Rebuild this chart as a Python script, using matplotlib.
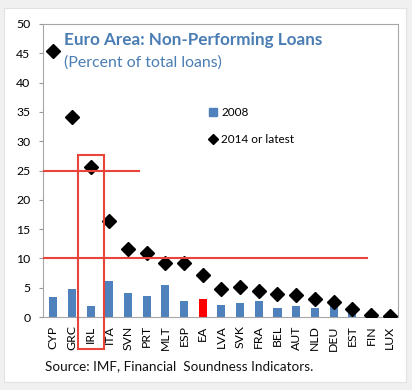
import matplotlib
matplotlib.use("Agg")
import matplotlib.pyplot as plt
from matplotlib.patches import Rectangle
from matplotlib.lines import Line2D
import numpy as np

countries = ["CYP", "GRC", "IRL", "ITA", "SVN", "PRT", "MLT", "ESP", "EA", "LVA",
             "SVK", "FRA", "BEL", "AUT", "NLD", "DEU", "EST", "FIN", "LUX"]
npl_2008 = [3.4, 4.7, 1.9, 6.2, 4.1, 3.6, 5.5, 2.7, 3.1, 2.1,
            2.4, 2.7, 1.6, 1.8, 1.6, 2.3, 1.0, 0.0, 0.0]
npl_2014 = [45.4, 34.1, 25.6, 16.4, 11.6, 11.0, 9.2, 9.2, 7.2, 4.8,
            5.2, 4.4, 3.9, 3.8, 3.1, 2.5, 1.4, 0.3, 0.1]
yticks = list(range(0, 51, 5))

W, H = 412, 390
fig = plt.figure(figsize=(W / 100, H / 100), dpi=100)
fig.patch.set_facecolor("#f0f0f0")
bg = Rectangle((4 / W, 1 - 382 / H), 402 / W, 374 / H, transform=fig.transFigure,
               facecolor="white", edgecolor="#e2e2e2", lw=0.8, zorder=-10)
fig.patches.append(bg)

ax = fig.add_axes([43 / W, 1 - 317 / H, 355 / W, 293 / H])
ax.set_zorder(5)
ax.set_facecolor("white")
x = np.arange(len(countries))
colors = ["#ff0000" if c == "EA" else "#4f81bd" for c in countries]
ax.bar(x, npl_2008, width=0.43, color=colors, zorder=2)
ax.plot(x, npl_2014, linestyle="none", marker="D", ms=7, color="black", zorder=3)

ax.set_xlim(-0.55, 18.45)
ax.set_ylim(0, 50)
ax.set_yticks(yticks)
ax.set_xticks(x)
ax.set_xticklabels(countries, rotation=90, fontsize=8.8, family="Lato")
ax.tick_params(axis="x", length=0, pad=6)
ax.tick_params(axis="y", length=3, color="#999999", labelsize=8.8, pad=6)
for t in ax.get_yticklabels():
    t.set_family("Lato")
for s in ax.spines.values():
    s.set_color("#a6a6a6")
    s.set_linewidth(0.8)

red = "#e8443a"
ax.plot([-0.55, 4.6], [25, 25], color=red, lw=1.5, zorder=4)
ax.plot([-0.55, 16.8], [10, 10], color=red, lw=1.5, zorder=4)
idx = countries.index("IRL")
ax.add_patch(Rectangle((idx - 0.7, -5.5), 1.4, 33.2, fill=False, edgecolor=red,
                       lw=1.5, clip_on=False, zorder=5))

ax.text(0.06, 0.945, "Euro Area: Non-Performing Loans", transform=ax.transAxes,
        fontsize=12.3, fontweight="bold", color="#4a7db3", family="Lato", va="center")
ax.text(0.06, 0.87, "(Percent of total loans)", transform=ax.transAxes,
        fontsize=11.4, color="#4a7db3", family="Lato", va="center")

handles = [Line2D([], [], linestyle="none", marker="s", ms=6, color="#4f81bd"),
           Line2D([], [], linestyle="none", marker="D", ms=5, color="black")]
ax.legend(handles, ["2008", "2014 or latest"], loc="upper left",
          bbox_to_anchor=(0.432, 0.752), frameon=False, handletextpad=0.2,
          labelspacing=1.3, handlelength=1.0, prop={"family": "Lato", "size": 8.5})

fig.text(45 / W, 1 - 366 / H, "Source: IMF, Financial  Soundness Indicators.",
         fontsize=9.7, family="Lato", va="center", color="#111111")

fig.savefig("out.png", dpi=100, facecolor=fig.get_facecolor())
